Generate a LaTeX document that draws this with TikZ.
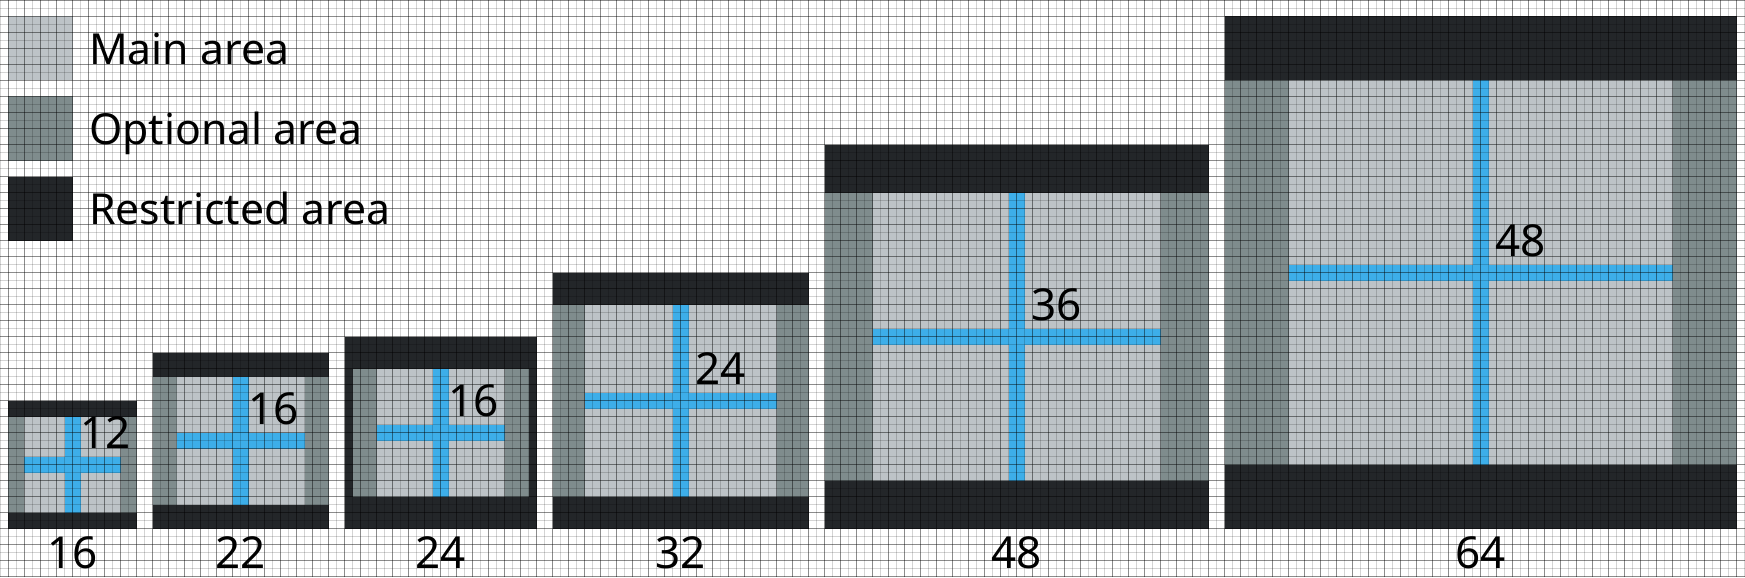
\documentclass[tikz,border=0pt]{standalone}
\usepackage{fontspec}
\setmainfont{Noto Sans}
\definecolor{mainc}{HTML}{BDC3C7}
\definecolor{optc}{HTML}{7F8C8D}
\definecolor{resc}{HTML}{232629}
\definecolor{crossc}{HTML}{3DAEE9}
\tikzset{
  restricted/.style={fill=resc},
  optional/.style={fill=optc},
  mainarea/.style={fill=mainc},
  crossbar/.style={fill=crossc},
  lightline/.style={draw=black, draw opacity=0.17, line width=0.025cm},
  darkline/.style={draw=black, draw opacity=0.45, line width=0.025cm},
  sizelabel/.style={font=\fontsize{31.3}{36}\selectfont, inner sep=0pt, anchor=base, text=black},
  legendlabel/.style={font=\fontsize{30.4}{34}\selectfont, inner sep=0pt, anchor=base west, text=black},
}
% #1 ox0 #2 ox1 #3 oy0 #4 px0 #5 px1 #6 mx0 #7 mx1 #8 my0 #9 my1  (outer bottom = 66)
\newcommand\myiconbox[9]{%
  \fill[restricted] (#1,#3) rectangle (#2,66);
  \fill[optional] (#4,#8) rectangle (#5,#9);
  \fill[mainarea] (#6,#8) rectangle (#7,#9);
  \fill[crossbar] ({(#6+#7)/2-1},#8) rectangle ({(#6+#7)/2+1},#9);
  \fill[crossbar] (#6,{(#8+#9)/2-1}) rectangle (#7,{(#8+#9)/2+1});
}
\begin{document}
\begin{tikzpicture}[x=0.2cm,y=-0.2cm]
\useasboundingbox (-0.0625,-0.0625) rectangle (218.0625,72.0625);
\fill[white] (-0.0625,-0.0625) rectangle (218.0625,72.0625);
% legend swatches
\fill[mainarea] (1,2) rectangle (9,10);
\fill[optional] (1,12) rectangle (9,20);
\fill[restricted] (1,22) rectangle (9,30);
% icon boxes
\myiconbox{1}{17}{50}{1}{17}{3}{15}{52}{64}
\myiconbox{19}{41}{44}{19}{41}{22}{38}{47}{63}
\myiconbox{43}{67}{42}{44}{66}{47}{63}{46}{62}
\myiconbox{69}{101}{34}{69}{101}{73}{97}{38}{62}
\myiconbox{103}{151}{18}{103}{151}{109}{145}{24}{60}
\myiconbox{153}{217}{2}{153}{217}{161}{209}{10}{58}
% grid
\foreach \x in {0,2,...,218} \draw[lightline] (\x,0) -- (\x,72);
\foreach \x in {1,3,...,217} \draw[darkline] (\x,0) -- (\x,72);
\foreach \y in {1,3,...,71} \draw[lightline] (0,\y) -- (218,\y);
\foreach \y in {0,2,...,72} \draw[darkline] (0,\y) -- (218,\y);
% legend text
\node[legendlabel] (lmain) at (11.05,8) {Main area};
\node[legendlabel] (lopt) at (11.05,18) {Optional area};
\node[legendlabel] (lres) at (11.05,28) {Restricted area};
% inner size labels
\node[sizelabel] (in16) at (13.15,56) {12};
\node[sizelabel] (in22) at (34.15,53) {16};
\node[sizelabel] (in24) at (59.15,52) {16};
\node[sizelabel] (in32) at (90,48) {24};
\node[sizelabel] (in48) at (132,40) {36};
\node[sizelabel] (in64) at (190,32) {48};
% bottom size labels
\node[sizelabel] (s16) at (9,71) {16};
\node[sizelabel] (s22) at (30,71) {22};
\node[sizelabel] (s24) at (55,71) {24};
\node[sizelabel] (s32) at (85,71) {32};
\node[sizelabel] (s48) at (127,71) {48};
\node[sizelabel] (s64) at (185,71) {64};
\end{tikzpicture}
\end{document}
